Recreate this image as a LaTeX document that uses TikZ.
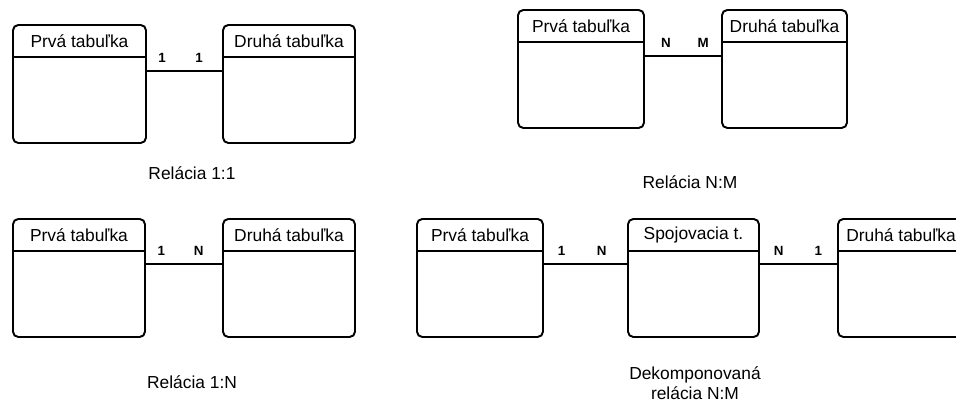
\documentclass[tikz,border=0pt]{standalone}
\usepackage{fontspec}
\setmainfont{Liberation Sans}

\tikzset{
  tabulka/.style={draw, line width=1.1pt, rounded corners=3pt, anchor=north west,
    inner sep=0pt, outer sep=0pt, minimum height=2.36cm},
  nadpis/.style={font=\fontsize{9.9}{11.3}\selectfont, inner sep=0pt},
  hlavicka/.style={line width=1.1pt},
  spoj/.style={line width=0.7pt},
  kard/.style={font=\fontsize{7.6}{8}\selectfont\bfseries, inner sep=0pt, yshift=0.26cm},
  popis/.style={font=\fontsize{9.9}{11.3}\selectfont, align=center, inner sep=0pt}
}

\begin{document}
\begin{tikzpicture}[x=0.02cm, y=-0.02cm]
      \useasboundingbox (0,0) rectangle (956,401);
      \clip (0,0) rectangle (956,401);

      % Relacia 1:1
      \node[tabulka, minimum width=2.66cm] (a1) at (13,25) {};
      \node[tabulka, minimum width=2.64cm] (a2) at (223,25) {};
      \node[nadpis] (a1t) at ([yshift=-0.32cm]a1.north) {Prvá tabuľka};
      \node[nadpis] (a2t) at ([yshift=-0.32cm]a2.north) {Druhá tabuľka};

      % Relacia N:M
      \node[tabulka, minimum width=2.52cm] (b1) at (518,10) {};
      \node[tabulka, minimum width=2.50cm] (b2) at (722,10) {};
      \node[nadpis] (b1t) at ([yshift=-0.32cm]b1.north) {Prvá tabuľka};
      \node[nadpis] (b2t) at ([yshift=-0.32cm]b2.north) {Druhá tabuľka};

      % Relacia 1:N
      \node[tabulka, minimum width=2.64cm] (c1) at (13,219) {};
      \node[tabulka, minimum width=2.64cm] (c2) at (223,219) {};
      \node[nadpis] (c1t) at ([yshift=-0.32cm]c1.north) {Prvá tabuľka};
      \node[nadpis] (c2t) at ([yshift=-0.32cm]c2.north) {Druhá tabuľka};

      % Dekomponovana relacia N:M
      \node[tabulka, minimum width=2.52cm] (d1) at (417,219) {};
      \node[tabulka, minimum width=2.62cm] (d2) at (628,219) {};
      \node[tabulka, minimum width=2.52cm] (d3) at (838,219) {};
      \node[nadpis] (d1t) at ([yshift=-0.32cm]d1.north) {Prvá tabuľka};
      \node[nadpis] (d2t) at ([yshift=-0.32cm]d2.north) {Spojovacia t.};
      \node[nadpis] (d3t) at ([yshift=-0.32cm]d3.north) {Druhá tabuľka};

      \foreach \t in {a1,a2,b1,b2,c1,c2,d1,d2,d3}
        \draw[hlavicka] ([yshift=-0.64cm]\t.north west) -- ([yshift=-0.64cm]\t.north east);

      \draw[spoj] ([yshift=-0.92cm]a1.north east) -- node[kard, pos=.21] {1} node[kard, pos=.69] {1} ([yshift=-0.92cm]a2.north west);
      \draw[spoj] ([yshift=-0.92cm]b1.north east) -- node[kard, pos=.28] {N} node[kard, pos=.76] {M} ([yshift=-0.92cm]b2.north west);
      \draw[spoj] ([yshift=-0.9cm]c1.north east) -- node[kard, pos=.21] {1} node[kard, pos=.69] {N} ([yshift=-0.9cm]c2.north west);
      \draw[spoj] ([yshift=-0.9cm]d1.north east) -- node[kard, pos=.22] {1} node[kard, pos=.69] {N} ([yshift=-0.9cm]d2.north west);
      \draw[spoj] ([yshift=-0.9cm]d2.north east) -- node[kard, pos=.25] {N} node[kard, pos=.75] {1} ([yshift=-0.9cm]d3.north west);

      \node[popis] (pa) at (192,173) {Relácia 1:1};
      \node[popis] (pb) at (690,182) {Relácia N:M};
      \node[popis] (pc) at (192,382) {Relácia 1:N};
      \node[popis] (pd) at (695,383) {Dekomponovaná\\relácia N:M};

    \end{tikzpicture}
\end{document}
